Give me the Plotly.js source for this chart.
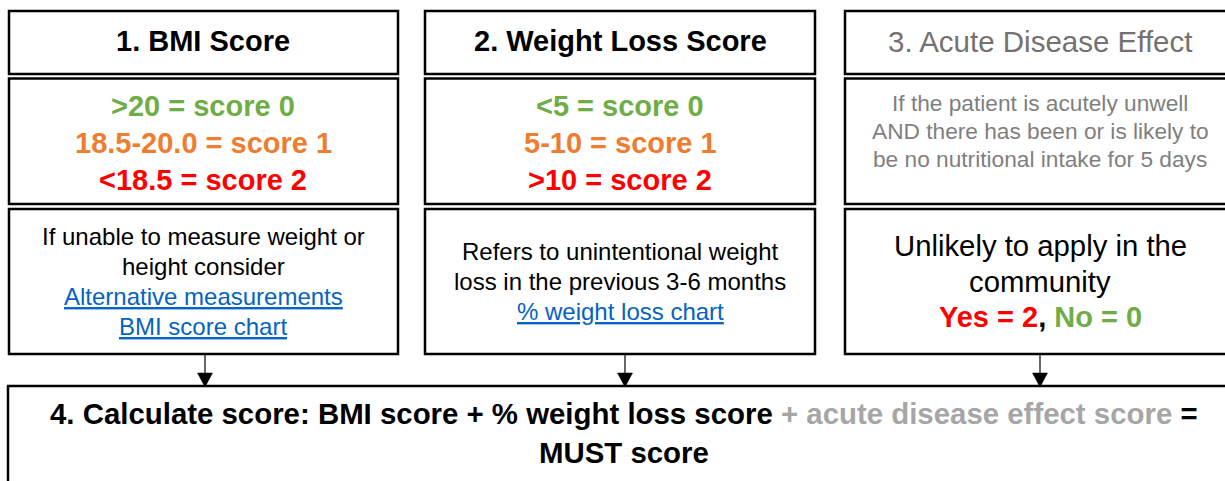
<!DOCTYPE html>
<html>
<head>
<meta charset="utf-8">
<script src="https://cdn.plot.ly/plotly-3.0.1.min.js"></script>
<style>html,body{margin:0;padding:0;background:#fff;}#chart{width:1225px;height:481px;}</style>
</head>
<body>
<div id="chart"></div>
<script>
// ---- content ----
const stepTitles = ["1. BMI Score", "2. Weight Loss Score", "3. Acute Disease Effect"];
const bmiRanges = [">20 = score 0", "18.5-20.0 = score 1", "<18.5 = score 2"];
const weightLossRanges = ["<5 = score 0", "5-10 = score 1", ">10 = score 2"];
const acuteCriteria = ["If the patient is acutely unwell", "AND there has been or is likely to", "be no nutritional intake for 5 days"];
const bmiNotes = ["If unable to measure weight or", "height consider"];
const bmiLinks = ["Alternative measurements", "BMI score chart"];
const weightLossNotes = ["Refers to unintentional weight", "loss in the previous 3-6 months"];
const weightLossLinks = ["% weight loss chart"];
const acuteNotes = ["Unlikely to apply in the", "community"];
const acuteAnswers = ["Yes = 2", "No = 0"];
const scoreColors = ["#70AD47", "#ED7D31", "#FF0000"];
const finalParts = ["4. Calculate score: BMI score + % weight loss score", "+ acute disease effect score", "=", "MUST score"];

// ---- layout geometry ----
const FONT = "Liberation Sans, Arial, sans-serif";
const cols = [{l: 9, r: 398, c: 203}, {l: 425, r: 815, c: 620}, {l: 845, r: 1240, c: 1040}];
const arrowX = [205, 625, 1040];
const rowsY = {titleTop: 11, titleBot: 74, midTop: 78.5, midBot: 204, lowTop: 209, lowBot: 354};
const bottomBox = {l: 8, r: 1240, t: 386, b: 500};

const shapes = [];
const ann = [];
function rect(x0, y0, x1, y1) {
  shapes.push({type: "rect", xref: "x", yref: "y", x0, y0, x1, y1,
    line: {color: "#000", width: 2.5}, fillcolor: "rgba(0,0,0,0)", layer: "above"});
}
function text(x, y, t, size, color, bold) {
  ann.push({x, y, xref: "x", yref: "y", text: bold ? "<b>" + t + "</b>" : t, showarrow: false,
    xanchor: "center", yanchor: "middle", font: {family: FONT, size, color}});
}
function esc(s) { return s.replace(/</g, "&lt;").replace(/>/g, "&gt;"); }

cols.forEach(c => {
  rect(c.l, rowsY.titleTop, c.r, rowsY.titleBot);
  rect(c.l, rowsY.midTop, c.r, rowsY.midBot);
  rect(c.l, rowsY.lowTop, c.r, rowsY.lowBot);
});
rect(bottomBox.l, bottomBox.t, bottomBox.r, bottomBox.b);

arrowX.forEach(x => {
  shapes.push({type: "line", xref: "x", yref: "y", x0: x, x1: x, y0: rowsY.lowBot, y1: 374, line: {color: "#000", width: 1.2}});
  shapes.push({type: "path", xref: "x", yref: "y",
    path: `M ${x - 7.5} 373 L ${x + 7.5} 373 L ${x} 387 Z`, fillcolor: "#000", line: {color: "#000", width: 0.5}});
});

// titles
text(cols[0].c, 41, stepTitles[0], 29, "#000", true);
text(cols[1].c, 41, stepTitles[1], 29, "#000", true);
text(cols[2].c, 41, stepTitles[2], 29.5, "#767171", false);

// score ranges
const scoreY = [106, 143, 180];
bmiRanges.forEach((t, i) => text(cols[0].c, scoreY[i], esc(t), 29, scoreColors[i], true));
weightLossRanges.forEach((t, i) => text(cols[1].c, scoreY[i], esc(t), 29, scoreColors[i], true));
const acuteY = [103, 131, 159];
acuteCriteria.forEach((t, i) => text(cols[2].c, acuteY[i], t, 22.7, "#7F7F7F", false));

// notes
const LINK = "#0563C1";
function link(t) { return `<span style="text-decoration:underline;color:${LINK}">${esc(t)}</span>`; }
const bmiNoteY = [236, 266, 296, 326];
bmiNotes.forEach((t, i) => text(cols[0].c, bmiNoteY[i], t, 24, "#000", false));
bmiLinks.forEach((t, i) => text(cols[0].c, bmiNoteY[i + 2], link(t), 24, LINK, false));
const wlNoteY = [251, 281, 311];
weightLossNotes.forEach((t, i) => text(cols[1].c, wlNoteY[i], t, 24, "#000", false));
weightLossLinks.forEach((t, i) => text(cols[1].c, wlNoteY[i + 2], link(t), 24, LINK, false));
const acNoteY = [245, 281, 317];
acuteNotes.forEach((t, i) => text(cols[2].c, acNoteY[i], t, 29.3, "#000", false));
text(1040, acNoteY[2],
  `<span style="color:${scoreColors[2]}">${acuteAnswers[0]}</span><span style="color:#000">, </span><span style="color:${scoreColors[0]}">${acuteAnswers[1]}</span>`,
  29, "#000", true);

// final step
text(623.5, 413,
  `${esc(finalParts[0])} <span style="color:#A6A6A6">${esc(finalParts[1])}</span> ${finalParts[2]}`,
  29.4, "#000", true);
text(623.5, 452, finalParts[3], 29.4, "#000", true);

const layout = {
  width: 1225, height: 481,
  margin: {l: 0, r: 0, t: 0, b: 0},
  paper_bgcolor: "#fff", plot_bgcolor: "#fff",
  xaxis: {range: [0, 1225], visible: false, fixedrange: true},
  yaxis: {range: [481, 0], visible: false, fixedrange: true},
  showlegend: false,
  shapes, annotations: ann
};
Plotly.newPlot("chart", [], layout, {staticPlot: true, displayModeBar: false});
</script>
</body>
</html>
